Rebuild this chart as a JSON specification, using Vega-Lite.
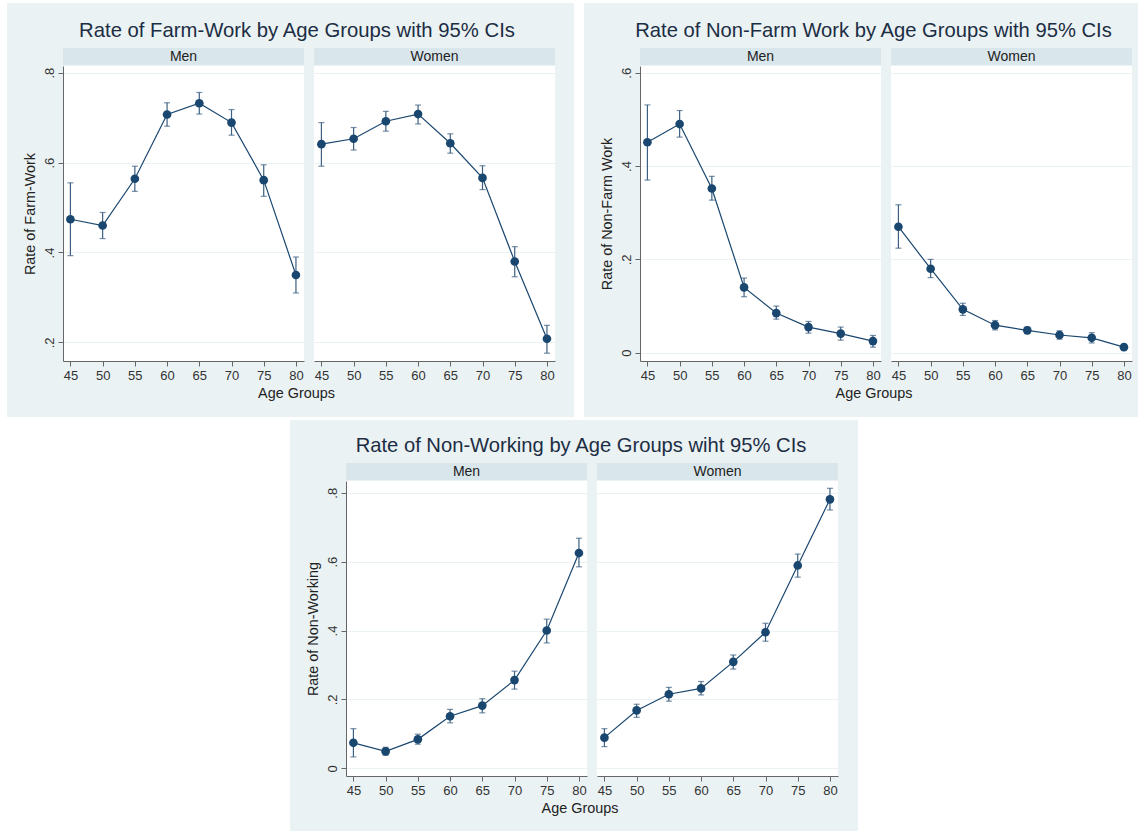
{
  "$schema": "https://vega.github.io/schema/vega-lite/v6.json",
  "padding": 0,
  "background": "#EAF2F3",
  "spacing": 0,
  "datasets": {
    "farm": [
      {"sex": "Men", "age": 45, "rate": 0.474, "lo": 0.393, "hi": 0.555},
      {"sex": "Men", "age": 50, "rate": 0.460, "lo": 0.431, "hi": 0.489},
      {"sex": "Men", "age": 55, "rate": 0.564, "lo": 0.536, "hi": 0.592},
      {"sex": "Men", "age": 60, "rate": 0.707, "lo": 0.681, "hi": 0.733},
      {"sex": "Men", "age": 65, "rate": 0.732, "lo": 0.708, "hi": 0.756},
      {"sex": "Men", "age": 70, "rate": 0.689, "lo": 0.661, "hi": 0.718},
      {"sex": "Men", "age": 75, "rate": 0.561, "lo": 0.525, "hi": 0.595},
      {"sex": "Men", "age": 80, "rate": 0.350, "lo": 0.310, "hi": 0.390},
      {"sex": "Women", "age": 45, "rate": 0.641, "lo": 0.592, "hi": 0.689},
      {"sex": "Women", "age": 50, "rate": 0.653, "lo": 0.628, "hi": 0.678},
      {"sex": "Women", "age": 55, "rate": 0.692, "lo": 0.670, "hi": 0.714},
      {"sex": "Women", "age": 60, "rate": 0.708, "lo": 0.686, "hi": 0.728},
      {"sex": "Women", "age": 65, "rate": 0.643, "lo": 0.621, "hi": 0.664},
      {"sex": "Women", "age": 70, "rate": 0.566, "lo": 0.540, "hi": 0.593},
      {"sex": "Women", "age": 75, "rate": 0.380, "lo": 0.346, "hi": 0.413},
      {"sex": "Women", "age": 80, "rate": 0.208, "lo": 0.176, "hi": 0.238}
    ],
    "nonfarm": [
      {"sex": "Men", "age": 45, "rate": 0.451, "lo": 0.370, "hi": 0.531},
      {"sex": "Men", "age": 50, "rate": 0.490, "lo": 0.462, "hi": 0.519},
      {"sex": "Men", "age": 55, "rate": 0.352, "lo": 0.327, "hi": 0.378},
      {"sex": "Men", "age": 60, "rate": 0.140, "lo": 0.120, "hi": 0.160},
      {"sex": "Men", "age": 65, "rate": 0.085, "lo": 0.072, "hi": 0.100},
      {"sex": "Men", "age": 70, "rate": 0.055, "lo": 0.042, "hi": 0.067},
      {"sex": "Men", "age": 75, "rate": 0.041, "lo": 0.027, "hi": 0.055},
      {"sex": "Men", "age": 80, "rate": 0.025, "lo": 0.012, "hi": 0.037},
      {"sex": "Women", "age": 45, "rate": 0.270, "lo": 0.224, "hi": 0.317},
      {"sex": "Women", "age": 50, "rate": 0.180, "lo": 0.161, "hi": 0.200},
      {"sex": "Women", "age": 55, "rate": 0.093, "lo": 0.080, "hi": 0.106},
      {"sex": "Women", "age": 60, "rate": 0.059, "lo": 0.049, "hi": 0.069},
      {"sex": "Women", "age": 65, "rate": 0.048, "lo": 0.041, "hi": 0.055},
      {"sex": "Women", "age": 70, "rate": 0.038, "lo": 0.029, "hi": 0.047},
      {"sex": "Women", "age": 75, "rate": 0.032, "lo": 0.021, "hi": 0.043},
      {"sex": "Women", "age": 80, "rate": 0.012, "lo": 0.007, "hi": 0.016}
    ],
    "nowork": [
      {"sex": "Men", "age": 45, "rate": 0.074, "lo": 0.033, "hi": 0.115},
      {"sex": "Men", "age": 50, "rate": 0.049, "lo": 0.038, "hi": 0.061},
      {"sex": "Men", "age": 55, "rate": 0.084, "lo": 0.070, "hi": 0.099},
      {"sex": "Men", "age": 60, "rate": 0.151, "lo": 0.132, "hi": 0.171},
      {"sex": "Men", "age": 65, "rate": 0.182, "lo": 0.161, "hi": 0.202},
      {"sex": "Men", "age": 70, "rate": 0.256, "lo": 0.230, "hi": 0.282},
      {"sex": "Men", "age": 75, "rate": 0.400, "lo": 0.364, "hi": 0.433},
      {"sex": "Men", "age": 80, "rate": 0.625, "lo": 0.585, "hi": 0.668},
      {"sex": "Women", "age": 45, "rate": 0.089, "lo": 0.063, "hi": 0.115},
      {"sex": "Women", "age": 50, "rate": 0.168, "lo": 0.148, "hi": 0.186},
      {"sex": "Women", "age": 55, "rate": 0.215, "lo": 0.195, "hi": 0.235},
      {"sex": "Women", "age": 60, "rate": 0.232, "lo": 0.213, "hi": 0.252},
      {"sex": "Women", "age": 65, "rate": 0.309, "lo": 0.288, "hi": 0.329},
      {"sex": "Women", "age": 70, "rate": 0.395, "lo": 0.369, "hi": 0.421},
      {"sex": "Women", "age": 75, "rate": 0.589, "lo": 0.555, "hi": 0.622},
      {"sex": "Women", "age": 80, "rate": 0.781, "lo": 0.750, "hi": 0.813}
    ]
  },
  "vconcat": [
    {"width": 1147, "height": 3, "view": {"fill": "#FFFFFF", "stroke": null}, "data": {"values": [{}]}, "mark": {"type": "point", "opacity": 0, "size": 0}},
    {
      "spacing": 0,
      "hconcat": [
        {"width": 7, "height": 414, "view": {"fill": "#FFFFFF", "stroke": null}, "data": {"values": [{}]}, "mark": {"type": "point", "opacity": 0, "size": 0}},
        {"width": 15, "height": 20, "data": {"values": [{}]}, "mark": {"type": "point", "opacity": 0, "size": 0}},
        {
          "spacing": 1,
          "vconcat": [
            {"width": 492, "height": 44, "data": {"values": [{"heading": "Rate of Farm-Work by Age Groups with 95% CIs"}]},
             "mark": {"type": "text", "fontSize": 20.3, "color": "#1C2D44", "baseline": "alphabetic", "dy": 11.7, "dx": -12},
             "encoding": {"text": {"field": "heading"}}},
            {
              "spacing": 10,
              "title": {"text": "Age Groups", "orient": "bottom", "anchor": "middle", "fontSize": 14.4, "fontWeight": "normal", "font": "Liberation Sans", "color": "#222222", "offset": 5, "dx": 8},
              "hconcat": [
                {"spacing": 1, "vconcat": [
                  {"width": 241, "height": 17, "view": {"fill": "#D9E6EB", "stroke": null}, "data": {"values": [{"panel": "Men"}]},
                   "mark": {"type": "text", "fontSize": 14, "color": "#222222", "baseline": "alphabetic", "dy": 4.7}, "encoding": {"text": {"field": "panel"}}},
                  {"width": 241, "height": 295, "view": {"fill": "#FFFFFF", "stroke": null},
                   "data": {"name": "farm"}, "transform": [{"filter": "datum.sex === 'Men'"}],
                   "encoding": {
                     "x": {"field": "age", "type": "quantitative", "scale": {"domain": [43.85, 81.25], "nice": false, "zero": false}, "axis": {"values": [45, 50, 55, 60, 65, 70, 75, 80], "title": null}},
                     "y": {"field": "rate", "type": "quantitative", "scale": {"domain": [0.1586, 0.8149], "nice": false, "zero": false}, "axis": {"values": [0.2, 0.4, 0.6, 0.8], "labelExpr": "datum.value == 0 ? '0' : replace(format(datum.value, '.1f'), '0.', '.')", "title": "Rate of Farm-Work"}}
                   },
                   "layer": [
                     {"mark": {"type": "errorbar", "ticks": {"size": 6}, "thickness": 1.2, "color": "#3C5F82"},
                      "encoding": {"y": {"field": "lo", "type": "quantitative", "scale": {"domain": [0.1586, 0.8149], "nice": false, "zero": false}, "axis": {"values": [0.2, 0.4, 0.6, 0.8], "labelExpr": "datum.value == 0 ? '0' : replace(format(datum.value, '.1f'), '0.', '.')", "title": "Rate of Farm-Work"}}, "y2": {"field": "hi"}}},
                     {"mark": {"type": "line", "color": "#1A476F", "strokeWidth": 1.2}, "encoding": {}},
                     {"mark": {"type": "point", "filled": true, "size": 75, "color": "#1A476F", "opacity": 1}, "encoding": {}}
                   ]}
                ]},
                {"spacing": 1, "vconcat": [
                  {"width": 241, "height": 17, "view": {"fill": "#D9E6EB", "stroke": null}, "data": {"values": [{"panel": "Women"}]},
                   "mark": {"type": "text", "fontSize": 14, "color": "#222222", "baseline": "alphabetic", "dy": 4.7}, "encoding": {"text": {"field": "panel"}}},
                  {"width": 241, "height": 295, "view": {"fill": "#FFFFFF", "stroke": null},
                   "data": {"name": "farm"}, "transform": [{"filter": "datum.sex === 'Women'"}],
                   "encoding": {
                     "x": {"field": "age", "type": "quantitative", "scale": {"domain": [43.85, 81.25], "nice": false, "zero": false}, "axis": {"values": [45, 50, 55, 60, 65, 70, 75, 80], "title": null}},
                     "y": {"field": "rate", "type": "quantitative", "scale": {"domain": [0.1586, 0.8149], "nice": false, "zero": false}, "axis": {"values": [0.2, 0.4, 0.6, 0.8], "labels": false, "ticks": false, "domain": false, "title": null}}
                   },
                   "layer": [
                     {"mark": {"type": "errorbar", "ticks": {"size": 6}, "thickness": 1.2, "color": "#3C5F82"},
                      "encoding": {"y": {"field": "lo", "type": "quantitative", "scale": {"domain": [0.1586, 0.8149], "nice": false, "zero": false}, "axis": {"values": [0.2, 0.4, 0.6, 0.8], "labels": false, "ticks": false, "domain": false, "title": null}}, "y2": {"field": "hi"}}},
                     {"mark": {"type": "line", "color": "#1A476F", "strokeWidth": 1.2}, "encoding": {}},
                     {"mark": {"type": "point", "filled": true, "size": 75, "color": "#1A476F", "opacity": 1}, "encoding": {}}
                   ]}
                ]}
              ]
            }
          ]
        },
        {"width": 19, "height": 20, "data": {"values": [{}]}, "mark": {"type": "point", "opacity": 0, "size": 0}},
        {"width": 10, "height": 414, "view": {"fill": "#FFFFFF", "stroke": null}, "data": {"values": [{}]}, "mark": {"type": "point", "opacity": 0, "size": 0}},
        {"width": 15, "height": 20, "data": {"values": [{}]}, "mark": {"type": "point", "opacity": 0, "size": 0}},
        {
          "spacing": 1,
          "vconcat": [
            {"width": 492, "height": 44, "data": {"values": [{"heading": "Rate of Non-Farm Work by Age Groups with 95% CIs"}]},
             "mark": {"type": "text", "fontSize": 20.2, "color": "#1C2D44", "baseline": "alphabetic", "dy": 11.7, "dx": -12.5},
             "encoding": {"text": {"field": "heading"}}},
            {
              "spacing": 10,
              "title": {"text": "Age Groups", "orient": "bottom", "anchor": "middle", "fontSize": 14.4, "fontWeight": "normal", "font": "Liberation Sans", "color": "#222222", "offset": 5, "dx": 8.5},
              "hconcat": [
                {"spacing": 1, "vconcat": [
                  {"width": 241, "height": 17, "view": {"fill": "#D9E6EB", "stroke": null}, "data": {"values": [{"panel": "Men"}]},
                   "mark": {"type": "text", "fontSize": 14, "color": "#222222", "baseline": "alphabetic", "dy": 4.7}, "encoding": {"text": {"field": "panel"}}},
                  {"width": 241, "height": 295, "view": {"fill": "#FFFFFF", "stroke": null},
                   "data": {"name": "nonfarm"}, "transform": [{"filter": "datum.sex === 'Men'"}],
                   "encoding": {
                     "x": {"field": "age", "type": "quantitative", "scale": {"domain": [43.85, 81.25], "nice": false, "zero": false}, "axis": {"values": [45, 50, 55, 60, 65, 70, 75, 80], "title": null}},
                     "y": {"field": "rate", "type": "quantitative", "scale": {"domain": [-0.0177, 0.6144], "nice": false, "zero": false}, "axis": {"values": [0, 0.2, 0.4, 0.6], "labelExpr": "datum.value == 0 ? '0' : replace(format(datum.value, '.1f'), '0.', '.')", "title": "Rate of Non-Farm Work"}}
                   },
                   "layer": [
                     {"mark": {"type": "errorbar", "ticks": {"size": 6}, "thickness": 1.2, "color": "#3C5F82"},
                      "encoding": {"y": {"field": "lo", "type": "quantitative", "scale": {"domain": [-0.0177, 0.6144], "nice": false, "zero": false}, "axis": {"values": [0, 0.2, 0.4, 0.6], "labelExpr": "datum.value == 0 ? '0' : replace(format(datum.value, '.1f'), '0.', '.')", "title": "Rate of Non-Farm Work"}}, "y2": {"field": "hi"}}},
                     {"mark": {"type": "line", "color": "#1A476F", "strokeWidth": 1.2}, "encoding": {}},
                     {"mark": {"type": "point", "filled": true, "size": 75, "color": "#1A476F", "opacity": 1}, "encoding": {}}
                   ]}
                ]},
                {"spacing": 1, "vconcat": [
                  {"width": 241, "height": 17, "view": {"fill": "#D9E6EB", "stroke": null}, "data": {"values": [{"panel": "Women"}]},
                   "mark": {"type": "text", "fontSize": 14, "color": "#222222", "baseline": "alphabetic", "dy": 4.7}, "encoding": {"text": {"field": "panel"}}},
                  {"width": 241, "height": 295, "view": {"fill": "#FFFFFF", "stroke": null},
                   "data": {"name": "nonfarm"}, "transform": [{"filter": "datum.sex === 'Women'"}],
                   "encoding": {
                     "x": {"field": "age", "type": "quantitative", "scale": {"domain": [43.85, 81.25], "nice": false, "zero": false}, "axis": {"values": [45, 50, 55, 60, 65, 70, 75, 80], "title": null}},
                     "y": {"field": "rate", "type": "quantitative", "scale": {"domain": [-0.0177, 0.6144], "nice": false, "zero": false}, "axis": {"values": [0, 0.2, 0.4, 0.6], "labels": false, "ticks": false, "domain": false, "title": null}}
                   },
                   "layer": [
                     {"mark": {"type": "errorbar", "ticks": {"size": 6}, "thickness": 1.2, "color": "#3C5F82"},
                      "encoding": {"y": {"field": "lo", "type": "quantitative", "scale": {"domain": [-0.0177, 0.6144], "nice": false, "zero": false}, "axis": {"values": [0, 0.2, 0.4, 0.6], "labels": false, "ticks": false, "domain": false, "title": null}}, "y2": {"field": "hi"}}},
                     {"mark": {"type": "line", "color": "#1A476F", "strokeWidth": 1.2}, "encoding": {}},
                     {"mark": {"type": "point", "filled": true, "size": 75, "color": "#1A476F", "opacity": 1}, "encoding": {}}
                   ]}
                ]}
              ]
            }
          ]
        },
        {"width": 6, "height": 20, "data": {"values": [{}]}, "mark": {"type": "point", "opacity": 0, "size": 0}},
        {"width": 9, "height": 414, "view": {"fill": "#FFFFFF", "stroke": null}, "data": {"values": [{}]}, "mark": {"type": "point", "opacity": 0, "size": 0}}
      ]
    },
    {"width": 1147, "height": 3, "view": {"fill": "#FFFFFF", "stroke": null}, "data": {"values": [{}]}, "mark": {"type": "point", "opacity": 0, "size": 0}},
    {
      "spacing": 0,
      "hconcat": [
        {"width": 290, "height": 411, "view": {"fill": "#FFFFFF", "stroke": null}, "data": {"values": [{}]}, "mark": {"type": "point", "opacity": 0, "size": 0}},
        {"width": 15, "height": 20, "data": {"values": [{}]}, "mark": {"type": "point", "opacity": 0, "size": 0}},
        {
          "spacing": 1,
          "vconcat": [
            {"width": 492, "height": 42, "data": {"values": [{"heading": "Rate of Non-Working by Age Groups wiht 95% CIs"}]},
             "mark": {"type": "text", "fontSize": 20.2, "color": "#1C2D44", "baseline": "alphabetic", "dy": 11.3, "dx": -11},
             "encoding": {"text": {"field": "heading"}}},
            {
              "spacing": 10,
              "title": {"text": "Age Groups", "orient": "bottom", "anchor": "middle", "fontSize": 14.4, "fontWeight": "normal", "font": "Liberation Sans", "color": "#222222", "offset": 5, "dx": 8.5},
              "hconcat": [
                {"spacing": 1, "vconcat": [
                  {"width": 241, "height": 17, "view": {"fill": "#D9E6EB", "stroke": null}, "data": {"values": [{"panel": "Men"}]},
                   "mark": {"type": "text", "fontSize": 14, "color": "#222222", "baseline": "alphabetic", "dy": 4.7}, "encoding": {"text": {"field": "panel"}}},
                  {"width": 241, "height": 295, "view": {"fill": "#FFFFFF", "stroke": null},
                   "data": {"name": "nowork"}, "transform": [{"filter": "datum.sex === 'Men'"}],
                   "encoding": {
                     "x": {"field": "age", "type": "quantitative", "scale": {"domain": [43.85, 81.25], "nice": false, "zero": false}, "axis": {"values": [45, 50, 55, 60, 65, 70, 75, 80], "title": null}},
                     "y": {"field": "rate", "type": "quantitative", "scale": {"domain": [-0.0224, 0.8342], "nice": false, "zero": false}, "axis": {"values": [0, 0.2, 0.4, 0.6, 0.8], "labelExpr": "datum.value == 0 ? '0' : replace(format(datum.value, '.1f'), '0.', '.')", "title": "Rate of Non-Working"}}
                   },
                   "layer": [
                     {"mark": {"type": "errorbar", "ticks": {"size": 6}, "thickness": 1.2, "color": "#3C5F82"},
                      "encoding": {"y": {"field": "lo", "type": "quantitative", "scale": {"domain": [-0.0224, 0.8342], "nice": false, "zero": false}, "axis": {"values": [0, 0.2, 0.4, 0.6, 0.8], "labelExpr": "datum.value == 0 ? '0' : replace(format(datum.value, '.1f'), '0.', '.')", "title": "Rate of Non-Working"}}, "y2": {"field": "hi"}}},
                     {"mark": {"type": "line", "color": "#1A476F", "strokeWidth": 1.2}, "encoding": {}},
                     {"mark": {"type": "point", "filled": true, "size": 75, "color": "#1A476F", "opacity": 1}, "encoding": {}}
                   ]}
                ]},
                {"spacing": 1, "vconcat": [
                  {"width": 241, "height": 17, "view": {"fill": "#D9E6EB", "stroke": null}, "data": {"values": [{"panel": "Women"}]},
                   "mark": {"type": "text", "fontSize": 14, "color": "#222222", "baseline": "alphabetic", "dy": 4.7}, "encoding": {"text": {"field": "panel"}}},
                  {"width": 241, "height": 295, "view": {"fill": "#FFFFFF", "stroke": null},
                   "data": {"name": "nowork"}, "transform": [{"filter": "datum.sex === 'Women'"}],
                   "encoding": {
                     "x": {"field": "age", "type": "quantitative", "scale": {"domain": [43.85, 81.25], "nice": false, "zero": false}, "axis": {"values": [45, 50, 55, 60, 65, 70, 75, 80], "title": null}},
                     "y": {"field": "rate", "type": "quantitative", "scale": {"domain": [-0.0224, 0.8342], "nice": false, "zero": false}, "axis": {"values": [0, 0.2, 0.4, 0.6, 0.8], "labels": false, "ticks": false, "domain": false, "title": null}}
                   },
                   "layer": [
                     {"mark": {"type": "errorbar", "ticks": {"size": 6}, "thickness": 1.2, "color": "#3C5F82"},
                      "encoding": {"y": {"field": "lo", "type": "quantitative", "scale": {"domain": [-0.0224, 0.8342], "nice": false, "zero": false}, "axis": {"values": [0, 0.2, 0.4, 0.6, 0.8], "labels": false, "ticks": false, "domain": false, "title": null}}, "y2": {"field": "hi"}}},
                     {"mark": {"type": "line", "color": "#1A476F", "strokeWidth": 1.2}, "encoding": {}},
                     {"mark": {"type": "point", "filled": true, "size": 75, "color": "#1A476F", "opacity": 1}, "encoding": {}}
                   ]}
                ]}
              ]
            }
          ]
        },
        {"width": 20, "height": 20, "data": {"values": [{}]}, "mark": {"type": "point", "opacity": 0, "size": 0}},
        {"width": 289, "height": 411, "view": {"fill": "#FFFFFF", "stroke": null}, "data": {"values": [{}]}, "mark": {"type": "point", "opacity": 0, "size": 0}}
      ]
    }
  ],
  "config": {
    "font": "Liberation Sans",
    "view": {"stroke": null},
    "text": {"font": "Liberation Sans"},
    "axis": {
      "labelFont": "Liberation Sans", "labelFontSize": 13, "labelColor": "#333333",
      "titleFont": "Liberation Sans", "titleFontSize": 14.4, "titleFontWeight": "normal", "titleColor": "#222222",
      "domainColor": "#666666", "domainWidth": 1, "tickColor": "#666666", "tickWidth": 1, "tickSize": 5,
      "gridColor": "#EAF2F3", "gridWidth": 1, "labelFlush": false
    },
    "axisX": {"grid": false, "labelPadding": 3},
    "axisY": {"grid": true, "labelAngle": -90, "labelAlign": "center", "labelBaseline": "alphabetic", "labelPadding": 5, "titlePadding": 6}
  }
}
